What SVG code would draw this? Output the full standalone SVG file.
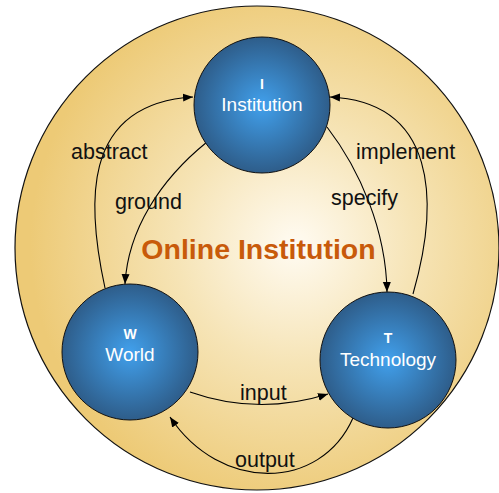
<svg xmlns="http://www.w3.org/2000/svg" width="499" height="493" viewBox="0 0 499 493">
<style>
.lbl{font-family:"Liberation Sans",Arial,sans-serif;font-size:21.5px;fill:#111}
.nt{font-family:"Liberation Sans",Arial,sans-serif;fill:#fff;text-anchor:middle}
.conn path{fill:none;stroke:#000;stroke-width:1.1}
.node circle{fill:url(#nodeGrad);stroke:#111;stroke-width:1}
</style>
<defs>
<radialGradient id="bgGrad" cx="295" cy="245" r="265" gradientUnits="userSpaceOnUse">
<stop offset="0" stop-color="#fffbf2"/>
<stop offset="0.45" stop-color="#f6e4b6"/>
<stop offset="1" stop-color="#edca76"/>
</radialGradient>
<radialGradient id="nodeGrad" cx="0.5" cy="0.5" r="0.5">
<stop offset="0" stop-color="#41a0ec"/>
<stop offset="1" stop-color="#2e5d8a"/>
</radialGradient>
<marker id="ah" viewBox="0 0 10 10" refX="10" refY="5" markerWidth="10" markerHeight="10" markerUnits="userSpaceOnUse" orient="auto">
<path d="M0,1 L10,5 L0,9 Z" fill="#000"/>
</marker>
</defs>
<g id="background">
<circle cx="257" cy="248" r="242" fill="url(#bgGrad)" stroke="#111" stroke-width="1.2"/>
<text x="258.5" y="259" font-family="'Liberation Sans',Arial,sans-serif" font-size="28.5" font-weight="bold" fill="#c85a0a" text-anchor="middle">Online Institution</text>
</g>
<g class="conn" id="connectors">
<path d="M105,288 C88,210 78,104 193,97" marker-end="url(#ah)"/>
<path d="M207,142 C160,180 128,230 125,284" marker-end="url(#ah)"/>
<path d="M413,294 C440,200 436,102 330,97" marker-end="url(#ah)"/>
<path d="M327,127 C360,170 386,230 387,292" marker-end="url(#ah)"/>
<path d="M190,392 Q258,416 328,394" marker-end="url(#ah)"/>
<path d="M353,418 C320,492 220,492 170,417" marker-end="url(#ah)"/>
</g>
<g id="labels">
<text class="lbl" x="71" y="159">abstract</text>
<text class="lbl" x="115" y="209">ground</text>
<text class="lbl" x="356" y="159">implement</text>
<text class="lbl" x="331" y="205">specify</text>
<text class="lbl" x="240" y="400">input</text>
<text class="lbl" x="235" y="467">output</text>
</g>
<g class="node" id="node-I">
<circle cx="262" cy="105" r="68"/>
<text class="nt" x="262" y="89" font-size="14" font-weight="bold">I</text>
<text class="nt" x="262" y="111" font-size="19">Institution</text>
</g>
<g class="node" id="node-W">
<circle cx="130" cy="352" r="68"/>
<text class="nt" x="130" y="339" font-size="14" font-weight="bold">W</text>
<text class="nt" x="130" y="361" font-size="19">World</text>
</g>
<g class="node" id="node-T">
<circle cx="388" cy="360" r="68"/>
<text class="nt" x="388" y="343" font-size="14" font-weight="bold">T</text>
<text class="nt" x="388" y="366" font-size="19">Technology</text>
</g>
</svg>
